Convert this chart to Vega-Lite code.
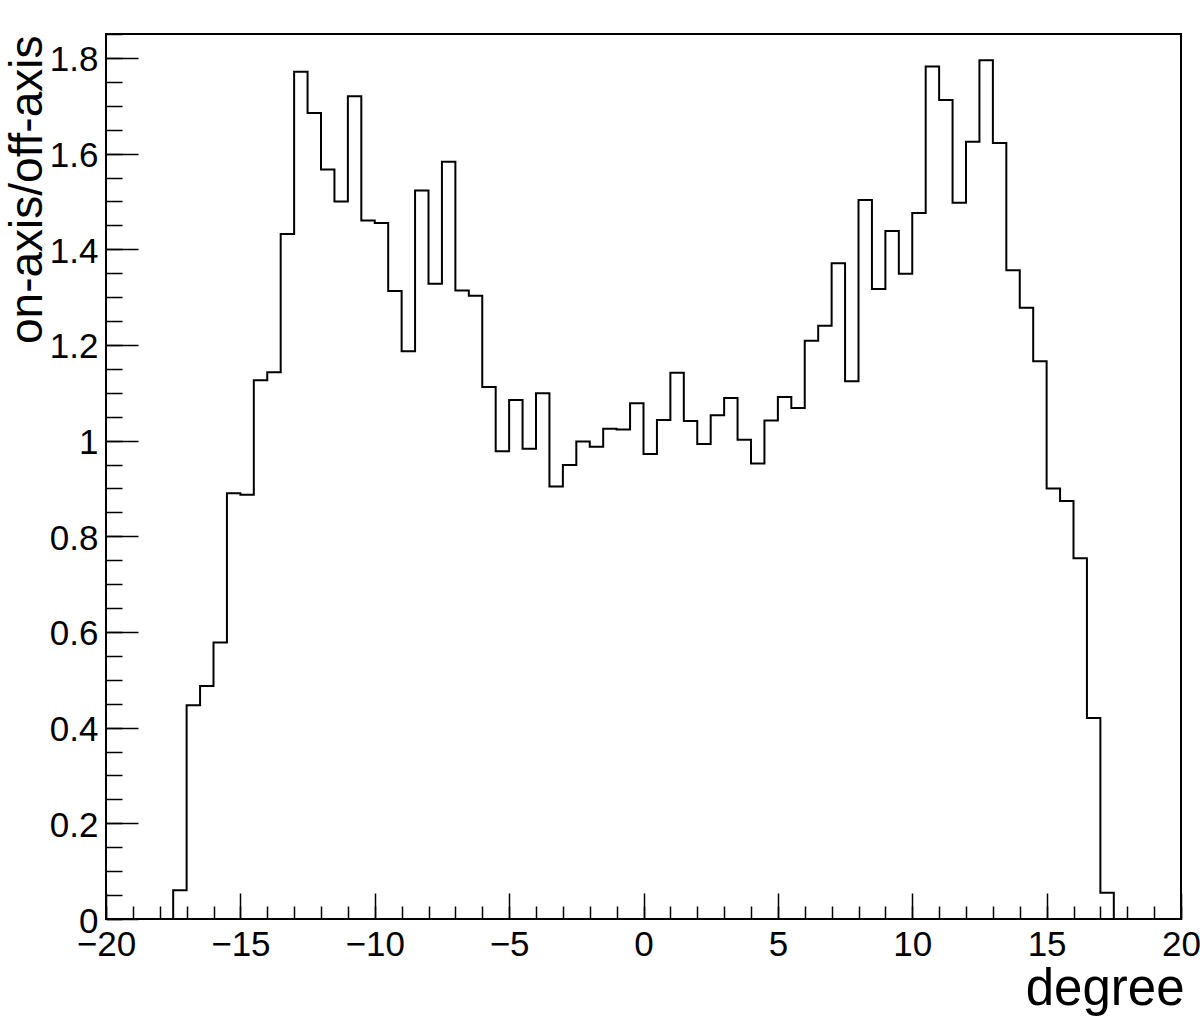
{
  "$schema": "https://vega.github.io/schema/vega-lite/v6.json",
  "width": 1075,
  "height": 885,
  "autosize": {"type": "none"},
  "padding": {"left": 106, "top": 34, "right": 19, "bottom": 98},
  "background": "white",
  "config": {
    "view": {"stroke": "black", "strokeWidth": 2},
    "font": "Liberation Sans",
    "axis": {"grid": false, "domain": false, "labelColor": "black", "titleColor": "black", "tickColor": "black", "labelFont": "Liberation Sans", "titleFont": "Liberation Sans", "titleFontWeight": "normal", "labelFontSize": 35, "labelOverlap": false, "labelFlush": false, "labelBound": false}
  },
  "data": {
    "values": [
      {"lo": -20, "v": 0}, {"lo": -19.5, "v": 0}, {"lo": -19, "v": 0}, {"lo": -18.5, "v": 0}, {"lo": -18, "v": 0},
      {"lo": -17.5, "v": 0.06}, {"lo": -17, "v": 0.447}, {"lo": -16.5, "v": 0.487}, {"lo": -16, "v": 0.578},
      {"lo": -15.5, "v": 0.89}, {"lo": -15, "v": 0.887}, {"lo": -14.5, "v": 1.126}, {"lo": -14, "v": 1.143},
      {"lo": -13.5, "v": 1.432}, {"lo": -13, "v": 1.771}, {"lo": -12.5, "v": 1.685}, {"lo": -12, "v": 1.567},
      {"lo": -11.5, "v": 1.5}, {"lo": -11, "v": 1.72}, {"lo": -10.5, "v": 1.46}, {"lo": -10, "v": 1.455},
      {"lo": -9.5, "v": 1.313}, {"lo": -9, "v": 1.187}, {"lo": -8.5, "v": 1.523}, {"lo": -8, "v": 1.328},
      {"lo": -7.5, "v": 1.583}, {"lo": -7, "v": 1.314}, {"lo": -6.5, "v": 1.303}, {"lo": -6, "v": 1.112},
      {"lo": -5.5, "v": 0.978}, {"lo": -5, "v": 1.085}, {"lo": -4.5, "v": 0.983}, {"lo": -4, "v": 1.099},
      {"lo": -3.5, "v": 0.904}, {"lo": -3, "v": 0.949}, {"lo": -2.5, "v": 0.998}, {"lo": -2, "v": 0.987},
      {"lo": -1.5, "v": 1.025}, {"lo": -1, "v": 1.023}, {"lo": -0.5, "v": 1.078}, {"lo": 0, "v": 0.972},
      {"lo": 0.5, "v": 1.043}, {"lo": 1, "v": 1.142}, {"lo": 1.5, "v": 1.041}, {"lo": 2, "v": 0.993},
      {"lo": 2.5, "v": 1.053}, {"lo": 3, "v": 1.089}, {"lo": 3.5, "v": 1.002}, {"lo": 4, "v": 0.952},
      {"lo": 4.5, "v": 1.042}, {"lo": 5, "v": 1.091}, {"lo": 5.5, "v": 1.068}, {"lo": 6, "v": 1.209},
      {"lo": 6.5, "v": 1.24}, {"lo": 7, "v": 1.371}, {"lo": 7.5, "v": 1.124}, {"lo": 8, "v": 1.503},
      {"lo": 8.5, "v": 1.317}, {"lo": 9, "v": 1.438}, {"lo": 9.5, "v": 1.349}, {"lo": 10, "v": 1.476},
      {"lo": 10.5, "v": 1.782}, {"lo": 11, "v": 1.712}, {"lo": 11.5, "v": 1.497}, {"lo": 12, "v": 1.625},
      {"lo": 12.5, "v": 1.795}, {"lo": 13, "v": 1.622}, {"lo": 13.5, "v": 1.356}, {"lo": 14, "v": 1.278},
      {"lo": 14.5, "v": 1.166}, {"lo": 15, "v": 0.9}, {"lo": 15.5, "v": 0.874}, {"lo": 16, "v": 0.754},
      {"lo": 16.5, "v": 0.42}, {"lo": 17, "v": 0.055},
      {"lo": 17.5, "v": 0}, {"lo": 18, "v": 0}, {"lo": 18.5, "v": 0}, {"lo": 19, "v": 0}, {"lo": 19.5, "v": 0}
    ]
  },
  "resolve": {"axis": {"x": "independent", "y": "independent"}},
  "layer": [
    {
      "mark": {"type": "line", "interpolate": "step-after", "color": "black", "strokeWidth": 2},
      "encoding": {
        "x": {"field": "lo", "type": "quantitative", "scale": {"domain": [-20, 20], "nice": false, "zero": false},
          "axis": {"orient": "bottom", "values": [-20, -15, -10, -5, 0, 5, 10, 15, 20], "format": "~g", "ticks": false, "tickSize": 0, "labelPadding": 36, "labelBaseline": "alphabetic", "labelAlign": "center",
            "title": "degree", "titleFontSize": 51, "titleX": 1078, "titleY": 85, "titleAlign": "right", "titleBaseline": "alphabetic", "titleAngle": 0}},
        "y": {"field": "v", "type": "quantitative", "scale": {"domain": [0, 1.85], "nice": false, "zero": true},
          "axis": {"orient": "left", "values": [0, 0.2, 0.4, 0.6, 0.8, 1, 1.2, 1.4, 1.6, 1.8], "format": "~g", "ticks": false, "tickSize": 0, "labelPadding": 8, "labelAlign": "right", "labelBaseline": "middle", "labelOffset": 2,
            "title": "on-axis/off-axis", "titleFontSize": 46, "titleAngle": -90, "titleX": -65, "titleY": 1, "titleAlign": "right", "titleBaseline": "alphabetic"}}
      }
    },
    {
      "mark": {"type": "line", "interpolate": "step-after", "strokeOpacity": 0},
      "encoding": {
        "x": {"field": "lo", "type": "quantitative",
          "axis": {"orient": "bottom", "values": [-20, -15, -10, -5, 0, 5, 10, 15, 20], "labels": false, "tickSize": -26, "tickWidth": 1.5, "title": null}},
        "y": {"field": "v", "type": "quantitative",
          "axis": {"orient": "left", "values": [0, 0.2, 0.4, 0.6, 0.8, 1, 1.2, 1.4, 1.6, 1.8], "labels": false, "tickSize": -32, "tickWidth": 1.5, "title": null}}
      }
    },
    {
      "mark": {"type": "line", "interpolate": "step-after", "strokeOpacity": 0},
      "encoding": {
        "x": {"field": "lo", "type": "quantitative",
          "axis": {"orient": "bottom", "values": [-20, -19, -18, -17, -16, -15, -14, -13, -12, -11, -10, -9, -8, -7, -6, -5, -4, -3, -2, -1, 0, 1, 2, 3, 4, 5, 6, 7, 8, 9, 10, 11, 12, 13, 14, 15, 16, 17, 18, 19, 20], "labels": false, "tickSize": -13, "tickWidth": 1.5, "title": null}},
        "y": {"field": "v", "type": "quantitative",
          "axis": {"orient": "left", "values": [0, 0.05, 0.1, 0.15, 0.2, 0.25, 0.3, 0.35, 0.4, 0.45, 0.5, 0.55, 0.6, 0.65, 0.7, 0.75, 0.8, 0.85, 0.9, 0.95, 1, 1.05, 1.1, 1.15, 1.2, 1.25, 1.3, 1.35, 1.4, 1.45, 1.5, 1.55, 1.6, 1.65, 1.7, 1.75, 1.8, 1.85], "labels": false, "tickSize": -16, "tickWidth": 1.5, "title": null}}
      }
    }
  ]
}
